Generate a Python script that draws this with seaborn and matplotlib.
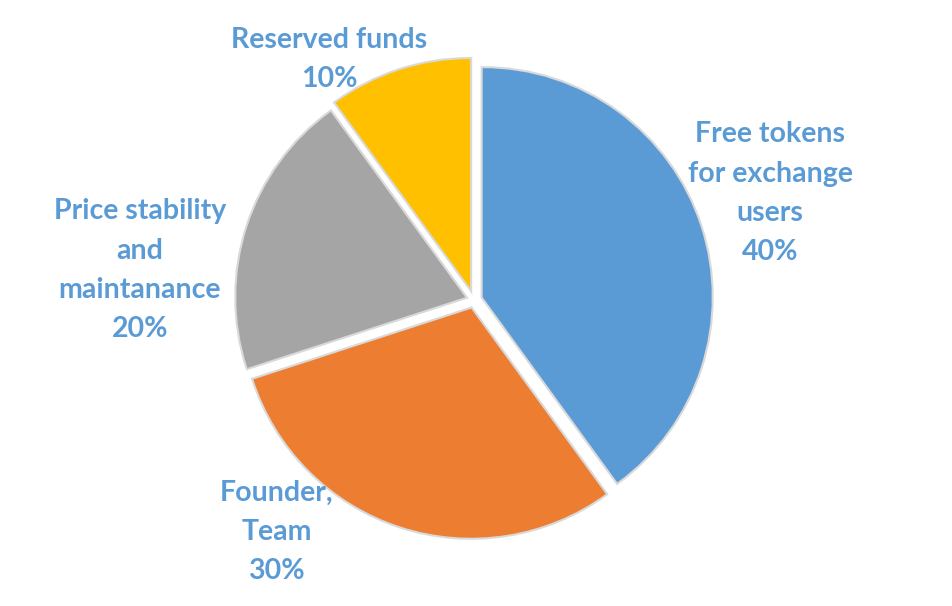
import matplotlib
matplotlib.use("Agg")
import matplotlib.pyplot as plt
import seaborn as sns
import numpy as np

# Token distribution (clockwise from 12 o'clock)
labels = ["Free tokens\nfor exchange\nusers", "Founder,\nTeam",
          "Price stability\nand\nmaintanance", "Reserved funds"]
shares = [40, 30, 20, 10]
colors = ["#5B9BD5", "#ED7D31", "#A5A5A5", "#FFC000"]
explode = [0.04, 0.04, 0.04, 0.055]

# label anchor (angle in degrees, distance in radii)
label_pos = [(19.8, 1.375), (229.6, 1.33), (174.9, 1.465), (121.0, 1.225)]

sns.set_theme(style="white")
plt.rcParams["font.family"] = ["Lato", "DejaVu Sans"]

fig = plt.figure(figsize=(9.52, 6.06), dpi=100)
ax = fig.add_axes([0, 0, 1, 1])

# soft grey outline behind the slices
ax.pie(shares, explode=explode, startangle=90, counterclock=False,
       colors=["#d4d4d4"] * 4, wedgeprops=dict(edgecolor="#d9d9d9", linewidth=3))
ax.pie(shares, explode=explode, startangle=90, counterclock=False,
       colors=colors, wedgeprops=dict(edgecolor="none", linewidth=0))

for lab, val, (ang, dist) in zip(labels, shares, label_pos):
    a = np.deg2rad(ang)
    ax.text(dist * np.cos(a), dist * np.sin(a), f"{lab}\n{val}%",
            ha="center", va="center", fontsize=20.5, color="#5B9BD5",
            fontweight="bold", linespacing=1.63)

R = 229
cx, cy = 474, 300
ax.set_xlim(-cx / R, (952 - cx) / R)
ax.set_ylim(-(606 - cy) / R, cy / R)
ax.set_aspect("equal")
ax.axis("off")

fig.savefig("out.png", dpi=100, facecolor="white")
